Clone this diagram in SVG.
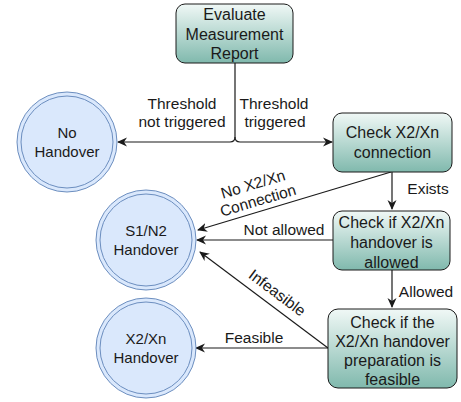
<svg xmlns="http://www.w3.org/2000/svg" width="461" height="402" viewBox="0 0 461 402">
<style>
.box{stroke:#1a1a1a;stroke-width:1;fill:url(#g)}
.c{fill:#dae8fc;stroke:#6c8ebf;stroke-width:1}
.t{font-family:"Liberation Sans",Arial,sans-serif;font-size:16px;fill:#1a1a1a;text-anchor:middle}
.ct{font-family:"Liberation Sans",Arial,sans-serif;font-size:15px;fill:#1a1a1a;text-anchor:middle}
.l{font-family:"Liberation Sans",Arial,sans-serif;font-size:15.5px;fill:#1a1a1a;text-anchor:middle}
.e{fill:none;stroke:#1a1a1a;stroke-width:1.2}
</style>
<defs>
<linearGradient id="g" x1="0" y1="0" x2="0" y2="1">
<stop offset="0" stop-color="#f0f8f6"/>
<stop offset="1" stop-color="#80b9ad"/>
</linearGradient>
<marker id="a" viewBox="0 0 10 10" refX="9" refY="5" markerWidth="10" markerHeight="10" markerUnits="userSpaceOnUse" orient="auto">
<path d="M0,0.5 L10,5 L0,9.5 L3,5 Z" fill="#1a1a1a"/>
</marker>
</defs>
<g id="edges">
<path class="e" d="M235,63 V137 Q235,142 230,142 H118" marker-end="url(#a)"/>
<path class="e" d="M235,137 Q235,142 240,142 H332" marker-end="url(#a)"/>
<path class="e" d="M392,172 V209" marker-end="url(#a)"/>
<path class="e" d="M391,172 L198,230" marker-end="url(#a)"/>
<path class="e" d="M333,240 H197" marker-end="url(#a)"/>
<path class="e" d="M392,270 V307" marker-end="url(#a)"/>
<path class="e" d="M328,348 L200,252" marker-end="url(#a)"/>
<path class="e" d="M328,348 H196" marker-end="url(#a)"/>
<text class="l" x="182" y="109">Threshold</text>
<text class="l" x="182" y="127">not triggered</text>
<text class="l" x="274" y="109">Threshold</text>
<text class="l" x="275" y="127">triggered</text>
<text class="l" x="428" y="194">Exists</text>
<g transform="translate(256,194) rotate(-16.7)">
<text class="l" x="0" y="-5">No X2/Xn</text>
<text class="l" x="0" y="12">Connection</text>
</g>
<text class="l" x="284" y="235">Not allowed</text>
<text class="l" x="426" y="297">Allowed</text>
<text class="l" transform="translate(274,297) rotate(36.9)" x="0" y="0">Infeasible</text>
<text class="l" x="254" y="343">Feasible</text>
</g>
<g id="evaluate">
<rect class="box" x="176" y="4" width="117" height="59" rx="9"/>
<text class="t" x="234.5" y="20">Evaluate</text>
<text class="t" x="234.5" y="39.5">Measurement</text>
<text class="t" x="234.5" y="59">Report</text>
</g>
<g id="no-handover">
<circle class="c" cx="67" cy="142" r="50"/>
<circle class="c" cx="67" cy="142" r="46"/>
<text class="ct" x="67" y="138">No</text>
<text class="ct" x="67" y="157">Handover</text>
</g>
<g id="check-conn">
<rect class="box" x="333" y="113" width="119" height="59" rx="9"/>
<text class="t" x="392.5" y="138">Check X2/Xn</text>
<text class="t" x="392.5" y="158">connection</text>
</g>
<g id="s1n2">
<circle class="c" cx="146" cy="240" r="50"/>
<circle class="c" cx="146" cy="240" r="46"/>
<text class="ct" x="146" y="236">S1/N2</text>
<text class="ct" x="146" y="255">Handover</text>
</g>
<g id="check-allowed">
<rect class="box" x="333" y="211" width="117" height="59" rx="9"/>
<text class="t" x="391.5" y="228">Check if X2/Xn</text>
<text class="t" x="391.5" y="248">handover is</text>
<text class="t" x="391.5" y="268">allowed</text>
</g>
<g id="check-feasible">
<rect class="box" x="328" y="309" width="129" height="79" rx="10"/>
<text class="t" x="392.5" y="328">Check if the</text>
<text class="t" x="392.5" y="347">X2/Xn handover</text>
<text class="t" x="392.5" y="366">preparation is</text>
<text class="t" x="392.5" y="385">feasible</text>
</g>
<g id="x2xn">
<circle class="c" cx="146" cy="348" r="50"/>
<circle class="c" cx="146" cy="348" r="46"/>
<text class="ct" x="146" y="344">X2/Xn</text>
<text class="ct" x="146" y="363">Handover</text>
</g>
</svg>
